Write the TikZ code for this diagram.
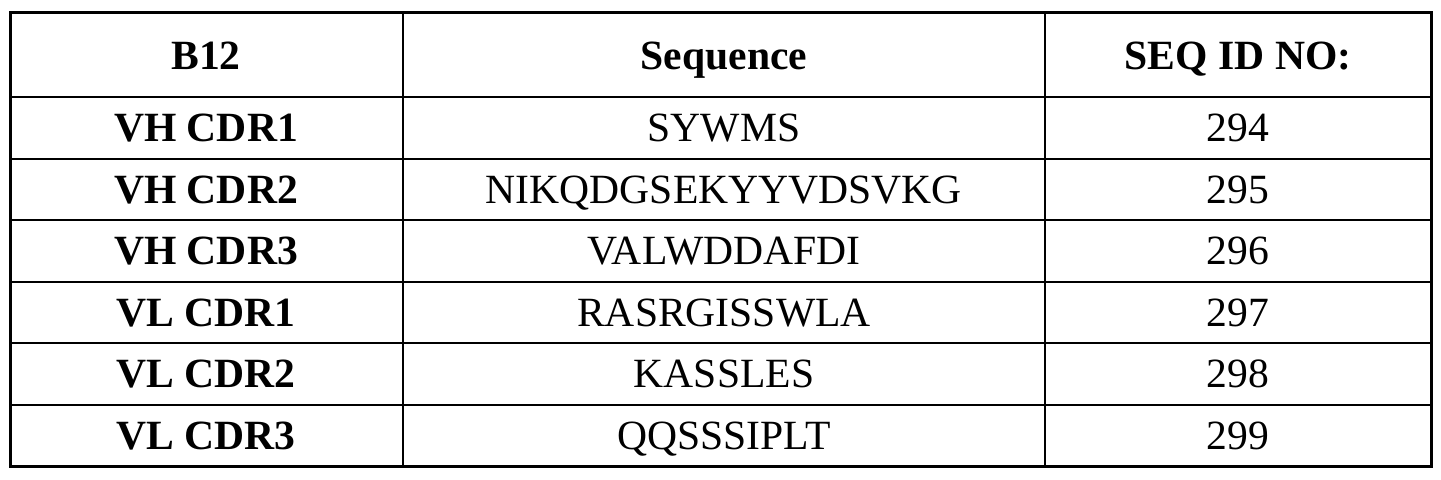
\documentclass[tikz,border=0pt]{standalone}
\usepackage{fontspec}
\setmainfont{Liberation Serif}
\begin{document}
\begin{tikzpicture}[x=0.5pt,y=-0.5pt,
  cell/.style={font=\fontsize{20.8}{22}\selectfont, anchor=base, inner sep=0pt},
  head/.style={cell, font=\fontsize{20.8}{22}\selectfont\bfseries},
  grid/.style={line width=1pt, black}]
\useasboundingbox (0,0) rectangle (1441,479);
\draw[line width=1.5pt] (10,12) rectangle (1431,466);
\foreach \y in {97,159,220,282,343,405} \draw[grid] (10,\y) -- (1431,\y);
\foreach \x in {403,1045} \draw[grid] (\x,12) -- (\x,466);
\node[head] (h1) at (206,69) {B12};
\node[head] (h2) at (724,69) {Sequence};
\node[head] (h3) at (1238,69) {SEQ ID NO:};
\foreach \i/\a/\b/\c in {1/VH CDR1/SYWMS/294,2/VH CDR2/NIKQDGSEKYYVDSVKG/295,3/VH CDR3/VALWDDAFDI/296,4/VL CDR1/RASRGISSWLA/297,5/VL CDR2/KASSLES/298,6/VL CDR3/QQSSSIPLT/299}{
  \pgfmathsetmacro{\yy}{97+61.5*(\i-0.5)+14}
  \node[head] (a\i) at (206,\yy) {\a};
  \node[cell] (b\i) at (724,\yy) {\b};
  \node[cell] (c\i) at (1238,\yy) {\c};
}
\end{tikzpicture}
\end{document}
